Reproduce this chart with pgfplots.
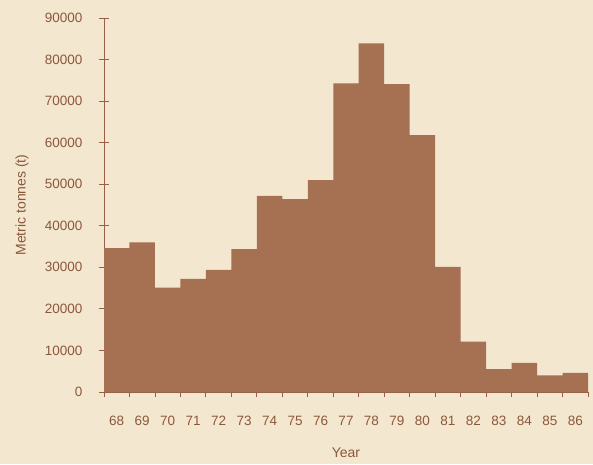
\documentclass[border=0pt]{standalone}
\usepackage{fontspec}
\setmainfont{Liberation Sans}
\usepackage{pgfplots}
\pgfplotsset{compat=1.18}
\definecolor{bgc}{RGB}{243,231,207}
\definecolor{barc}{RGB}{166,112,82}
\definecolor{txtc}{RGB}{140,88,60}
\definecolor{axc}{RGB}{150,96,70}
\begin{document}
\begin{tikzpicture}
\fill[bgc] (-104pt,-72pt) rectangle (489pt,392pt);
\begin{axis}[
  at={(0,0)}, anchor=south west,
  scale only axis,
  width=484pt, height=374pt,
  xmin=67.5, xmax=86.5,
  ymin=0, ymax=90000,
  enlargelimits=false,
  axis x line*=bottom, axis y line*=left,
  axis line style={-, axc, line width=1pt},
  xtick={68,...,86},
  minor xtick={67.5,...,86.5},
  major x tick style={draw=none},
  minor x tick style={axc, line width=0.8pt},
  minor tick length=5pt,
  xtick align=outside,
  ytick={0,10000,...,90000},
  ytick align=center,
  major y tick style={axc, line width=0.8pt},
  major tick length=10pt,
  scaled y ticks=false,
  /pgf/number format/assume math mode=true,
  yticklabel={\pgfmathprintnumber[fixed,1000 sep={}]{\tick}},
  yticklabel style={xshift=-13pt},
  xticklabel style={yshift=-11pt},
  tick label style={font=\fontsize{13.5}{15}\selectfont, text=txtc},
  xlabel={Year},
  ylabel={Metric tonnes (t)},
  every axis x label/.style={at={(axis description cs:0.5,0)}, yshift=-61pt, anchor=center, font=\fontsize{14}{16}\selectfont, text=txtc},
  every axis y label/.style={at={(axis description cs:0,0.5)}, xshift=-82pt, rotate=90, anchor=center, font=\fontsize{14}{16}\selectfont, text=txtc},
]
\addplot[ybar, bar width=1, fill=barc, draw=none] coordinates {
(68,34600) (69,36000) (70,25100) (71,27200) (72,29400) (73,34400)
(74,47200) (75,46400) (76,51000) (77,74300) (78,83900) (79,74100)
(80,61800) (81,30100) (82,12100) (83,5500) (84,7000) (85,4000) (86,4600)
};
\end{axis}
\pgfresetboundingbox
\path[use as bounding box] (-104pt,-72pt) rectangle (489pt,392pt);
\end{tikzpicture}
\end{document}
